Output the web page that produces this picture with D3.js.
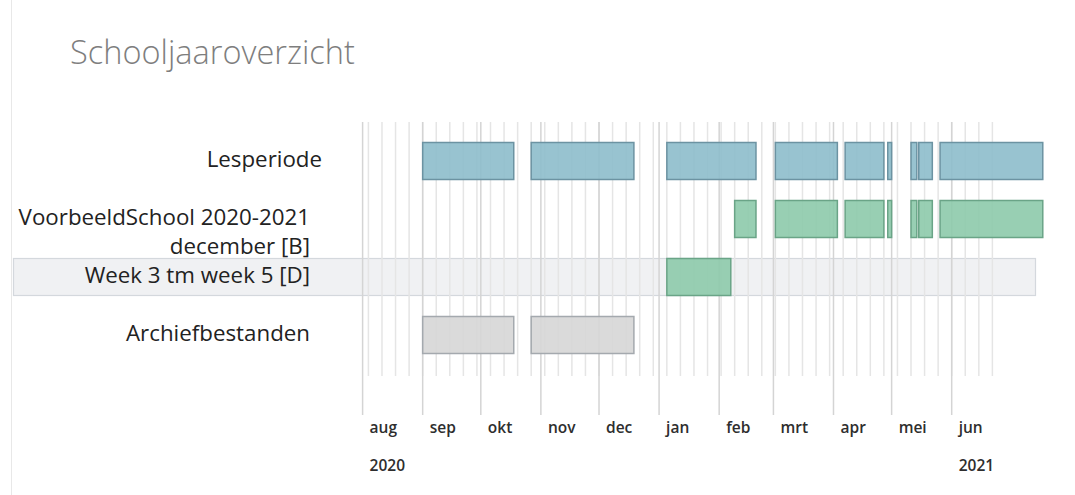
<!DOCTYPE html>
<html>
<head>
<meta charset="utf-8">
<script src="https://cdn.jsdelivr.net/npm/d3@7"></script>
<style>
  body { margin: 0; background: #fff; }
  text { font-family: "Open Sans", "Noto Sans", sans-serif; }
</style>
</head>
<body>
<div id="chart"></div>
<script>
// rows of the overview, top to bottom
var rows = ["Lesperiode", "VoorbeeldSchool 2020-2021", "Week 3 tm week 5 [D]", "Archiefbestanden"]
var rowLabels = [["Lesperiode"], ["VoorbeeldSchool 2020-2021", "december [B]"], ["Week 3 tm week 5 [D]"], ["Archiefbestanden"]]

// periods per row: [start, end]
var lesperiode = [["2020-09-01","2020-10-18"], ["2020-10-27","2020-12-19"], ["2021-01-05","2021-02-20"],
                  ["2021-03-02","2021-04-03"], ["2021-04-07","2021-04-27"], ["2021-04-29","2021-05-01"],
                  ["2021-05-11","2021-05-14"], ["2021-05-15","2021-05-22"], ["2021-05-26","2021-07-18"]]
var voorbeeld = [["2021-02-09","2021-02-20"], ["2021-03-02","2021-04-03"], ["2021-04-07","2021-04-27"],
                 ["2021-04-29","2021-05-01"], ["2021-05-11","2021-05-14"], ["2021-05-15","2021-05-22"],
                 ["2021-05-26","2021-07-18"]]
var week3tm5 = [["2021-01-05","2021-02-07"]]
var archief = [["2020-09-01","2020-10-18"], ["2020-10-27","2020-12-19"]]

var monthNames = ["aug","sep","okt","nov","dec","jan","feb","mrt","apr","mei","jun"]
var yearLabels = [["2020-08-01","2020"], ["2021-06-01","2021"]]

var W = 1075, H = 495
var parse = d3.utcParse("%Y-%m-%d")

var svg = d3.select("#chart").append("svg")
            .attr("width", W).attr("height", H)

var x = d3.scaleUtc()
          .domain([parse("2020-08-01"), parse("2021-06-01")])
          .range([362.6, 951.7])

var y = d3.scaleBand()
          .domain(rows)
          .range([132, 364])

var gridTop = 122

// panel border on the left
svg.append("line")
   .attr("x1", 11.5).attr("x2", 11.5).attr("y1", 0).attr("y2", H)
   .attr("stroke", "#e8e8e8").attr("stroke-width", 1)

// title
var title = svg.append("text")
   .attr("x", 70).attr("y", 64)
   .attr("fill", "#7e7e7e")
   .style("font-weight", 300)
   .style("font-size", "30px")
   .text("Schooljaaroverzicht")
fitWidth(title, 285)

// highlighted row
svg.append("rect")
   .attr("x", 13.5).attr("width", 1022)
   .attr("y", y(rows[2]) + 10.5).attr("height", 37)
   .attr("fill", "#f0f1f3")
   .attr("stroke", "#d4d8dd").attr("stroke-width", 1.2)

// week grid lines
var weeks = d3.utcTuesday.range(parse("2020-08-01"), parse("2021-06-28"))
svg.append("g").selectAll("line")
   .data(weeks).enter().append("line")
   .attr("x1", function(d) { return x(d) }).attr("x2", function(d) { return x(d) })
   .attr("y1", gridTop).attr("y2", 376)
   .attr("stroke", "#e5e5e5").attr("stroke-width", 1.5)

// month grid lines
var months = d3.utcMonth.range(parse("2020-08-01"), parse("2021-07-01"))
svg.append("g").selectAll("line")
   .data(months).enter().append("line")
   .attr("x1", function(d) { return x(d) }).attr("x2", function(d) { return x(d) })
   .attr("y1", gridTop).attr("y2", 415)
   .attr("stroke", "#d4d4d4").attr("stroke-width", 1.5)

// month + year labels
svg.append("g").selectAll("text")
   .data(months).enter().append("text")
   .attr("x", function(d) { return x(d) + 7 })
   .attr("y", 433)
   .attr("fill", "#2e2e2e")
   .style("font-size", "15.5px").style("font-weight", 600)
   .text(function(d, i) { return monthNames[i] })

svg.append("g").selectAll("text")
   .data(yearLabels).enter().append("text")
   .attr("x", function(d) { return x(parse(d[0])) + 7 })
   .attr("y", 471)
   .attr("fill", "#2e2e2e")
   .style("font-size", "15.5px").style("font-weight", 600)
   .text(function(d) { return d[1] })

// bars
function drawBars(data, row, fill, stroke) {
  svg.append("g").selectAll("rect")
     .data(data).enter().append("rect")
     .attr("x", function(d) { return x(parse(d[0])) })
     .attr("width", function(d) { return x(parse(d[1])) - x(parse(d[0])) })
     .attr("y", y(row) + 10.5)
     .attr("height", 37)
     .attr("fill", fill).attr("fill-opacity", 0.9)
     .attr("stroke", stroke).attr("stroke-width", 1.5)
}
drawBars(lesperiode, rows[0], "#8dbccb", "#6c93a2")
drawBars(voorbeeld, rows[1], "#8dcaab", "#6aa487")
drawBars(week3tm5, rows[2], "#8dcaab", "#6aa487")
drawBars(archief, rows[3], "#d6d6d6", "#a4a9ae")

// row labels
var labels = svg.append("g")
rowLabels.forEach(function(lines, i) {
  var t = labels.append("text")
     .attr("text-anchor", "end")
     .attr("fill", "#222")
     .style("font-size", "17px")
     .style("font-weight", 500)
  lines.forEach(function(s, j) {
    t.append("tspan")
     .attr("x", i == 0 ? 322 : 310)
     .attr("y", y(rows[i]) + 29 + 6 + j * 29)
     .text(s)
  })
})
// size row labels so the three single-width references match the picture overall
var tsp = labels.selectAll("tspan").nodes()
var measured = tsp[0].getComputedTextLength() + tsp[1].getComputedTextLength() + tsp[4].getComputedTextLength()
var k = (122 + 283 + 186) / measured
labels.selectAll("text").style("font-size", (17 * k) + "px")

function fitWidth(sel, target) {
  var w = sel.node().getComputedTextLength()
  var size = parseFloat(sel.style("font-size"))
  sel.style("font-size", (size * target / w) + "px")
}
</script>
</body>
</html>
